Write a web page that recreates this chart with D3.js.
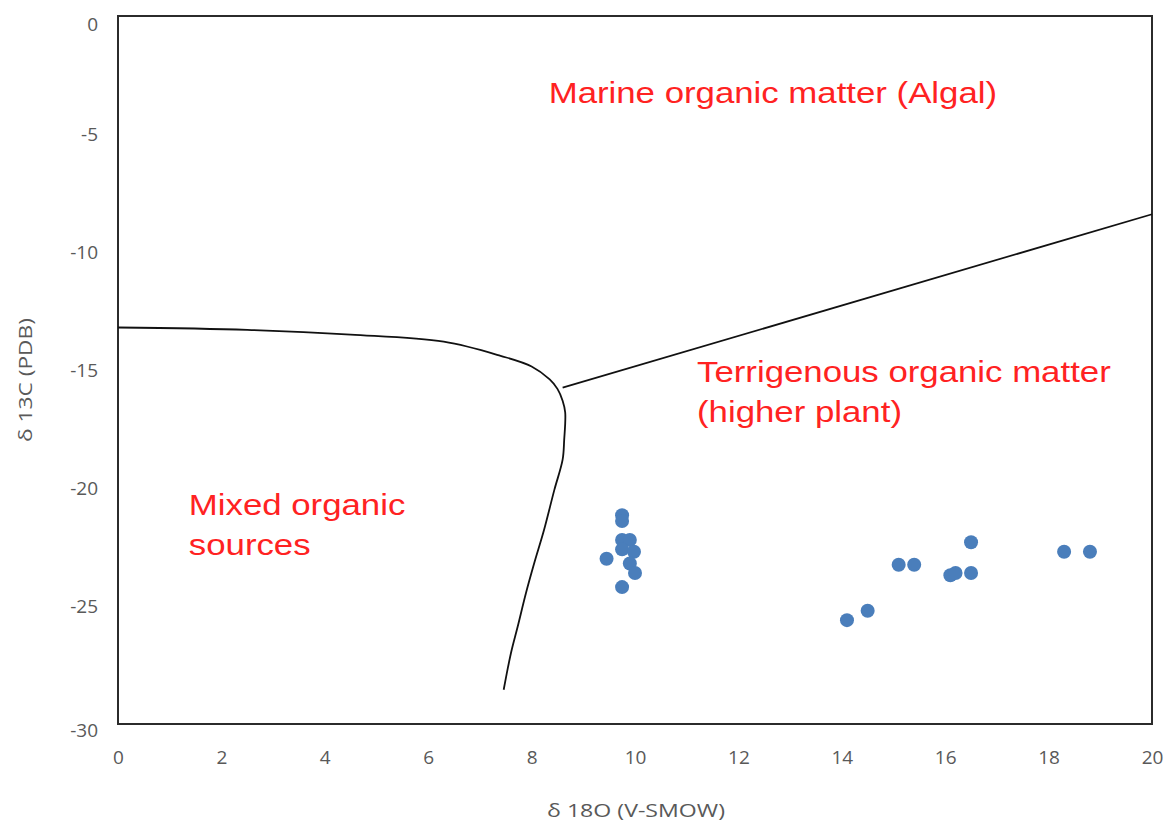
<!DOCTYPE html>
<html lang="en">
<head>
<meta charset="UTF-8">
<title>delta 13C vs delta 18O</title>
<script src="https://cdn.jsdelivr.net/npm/d3@7"></script>
<style>
  body { margin: 0; background: #fff; }
  .tick text { font-family: "Open Sans", sans-serif; }
</style>
</head>
<body>
<div id="chart"></div>
<script>
// chart data
var xTicks = [0, 2, 4, 6, 8, 10, 12, 14, 16, 18, 20];
var yTicks = [0, -5, -10, -15, -20, -25, -30];
var xTitle = "\u03b4 18O (V-SMOW)";
var yTitle = "\u03b4 13C (PDB)";

// samples
var sampleX = [9.75, 9.75, 9.75, 9.9, 9.75, 9.98, 9.45, 9.9, 10.0, 9.75,
               14.1, 14.5, 15.1, 15.4, 16.1, 16.2, 16.5, 16.5, 18.3, 18.8];
var sampleY = [-21.15, -21.4, -22.2, -22.2, -22.6, -22.7, -23.0, -23.2, -23.6, -24.2,
               -25.6, -25.2, -23.25, -23.25, -23.7, -23.6, -23.6, -22.3, -22.7, -22.7];

// boundary of the mixed sources field
var mixedX = [0, 2.5, 4.5, 6.3, 7.4, 8.0, 8.35, 8.5, 8.6, 8.65, 8.63, 8.6, 8.44, 8.24, 8.05, 7.89, 7.73, 7.6, 7.46];
var mixedY = [-13.2, -13.3, -13.5, -13.8, -14.4, -14.85, -15.4, -15.8, -16.3, -16.8, -17.97, -18.8, -20.08, -21.78, -23.19, -24.46, -25.88, -27.0, -28.55];

// boundary marine / terrigenous
var terrX = [8.6, 20];
var terrY = [-15.75, -8.4];

var regionNames = [["Marine organic matter (Algal)"],
                   ["Terrigenous organic matter", "(higher plant)"],
                   ["Mixed organic", "sources"]];
var regionX = [8.33, 11.2, 1.37];
var regionY = [-3.7, -15.5, -21.15];

var W = 1172, H = 823;
var m = {top: 16, right: 20, bottom: 99, left: 118};
var iw = W - m.left - m.right, ih = H - m.top - m.bottom;

var svg = d3.select("#chart").append("svg").attr("width", W).attr("height", H);
var g = svg.append("g").attr("transform", "translate(" + m.left + "," + m.top + ")");

var x = d3.scaleLinear().domain([0, 20]).range([0, iw]);
var y = d3.scaleLinear().domain([-30, 0]).range([ih, 0]);
var plain = function(d){ return String(d); }; // hyphen minus like the original

// axes (labels only, frame drawn separately)
var xa = g.append("g").attr("transform", "translate(0," + ih + ")")
  .call(d3.axisBottom(x).tickValues(xTicks).tickFormat(plain).tickSize(0).tickPadding(27));
var ya = g.append("g")
  .call(d3.axisLeft(y).tickValues(yTicks).tickFormat(plain).tickSize(0).tickPadding(20));
[xa, ya].forEach(function(a){
  a.select(".domain").remove();
  a.selectAll("text").attr("fill", "#595959").style("font-size", "19px");
});
// end labels sit a little lower than their ticks in the original
ya.selectAll("text").attr("dy", function(d){ return d === 0 ? 8 + 6.5 : d === -30 ? 6 + 6.5 : 6.5; });

// plot frame
g.append("rect").attr("width", iw).attr("height", ih)
  .attr("fill", "none").attr("stroke", "#2b2b2b").attr("stroke-width", 2);

// boundary lines
var line = d3.line().x(function(d){return x(d[0]);}).y(function(d){return y(d[1]);});
g.append("path").datum(d3.zip(mixedX, mixedY))
  .attr("d", line.curve(d3.curveCatmullRom))
  .attr("fill", "none").attr("stroke", "#111").attr("stroke-width", 1.8);
g.append("path").datum(d3.zip(terrX, terrY))
  .attr("d", line.curve(d3.curveLinear))
  .attr("fill", "none").attr("stroke", "#111").attr("stroke-width", 1.8);

// samples
g.selectAll("circle").data(d3.zip(sampleX, sampleY)).enter().append("circle")
  .attr("cx", function(d){return x(d[0]);})
  .attr("cy", function(d){return y(d[1]);})
  .attr("r", 7)
  .attr("fill", "#4a7ebb");

// region labels (original text is a bit stretched sideways)
regionNames.forEach(function(lines, i){
  var t = g.append("text")
    .attr("transform", "translate(" + x(regionX[i]) + "," + y(regionY[i]) + ") scale(1.16,1)")
    .attr("fill", "#ff2222")
    .style("font-family", "'Liberation Sans', Arial, sans-serif")
    .style("font-size", "30px");
  lines.forEach(function(s, j){
    t.append("tspan").attr("x", 0).attr("dy", j ? 40 : 0).text(s);
  });
});

// axis titles
svg.append("text").attr("x", 636).attr("y", 817)
  .attr("text-anchor", "middle").attr("fill", "#595959")
  .attr("textLength", 178).attr("lengthAdjust", "spacingAndGlyphs")
  .style("font-family", "'Open Sans', sans-serif").style("font-size", "19px")
  .text(xTitle);
svg.append("text").attr("transform", "translate(32,380) rotate(-90)")
  .attr("text-anchor", "middle").attr("fill", "#595959")
  .attr("textLength", 124).attr("lengthAdjust", "spacingAndGlyphs")
  .style("font-family", "'Open Sans', sans-serif").style("font-size", "18px")
  .text(yTitle);
</script>
</body>
</html>
